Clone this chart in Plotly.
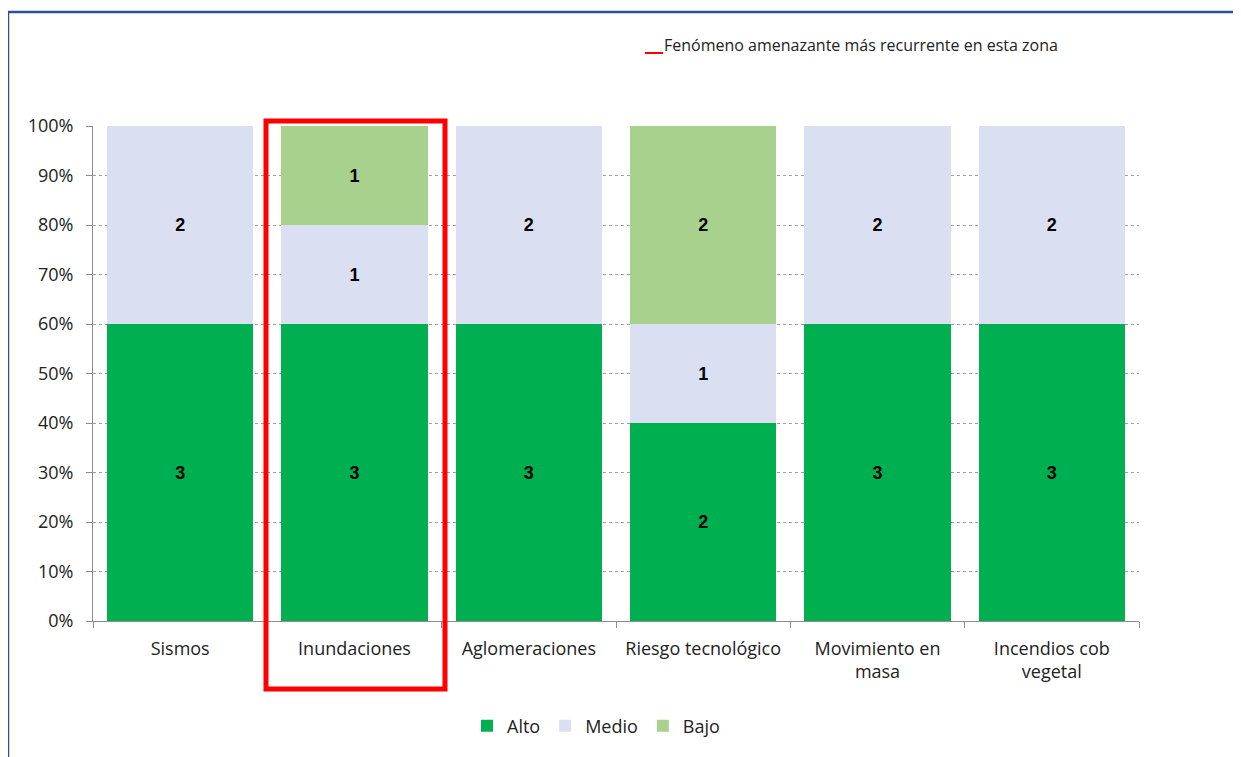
import plotly.graph_objects as go

categories = ["Sismos", "Inundaciones", "Aglomeraciones", "Riesgo tecnológico",
              "Movimiento en<br>masa", "Incendios cob<br>vegetal"]
alto = [3, 3, 3, 2, 3, 3]
medio = [2, 1, 2, 1, 2, 2]
bajo = [0, 1, 0, 2, 0, 0]
series = [("Alto", alto, "#00B050"), ("Medio", medio, "#DAE0F2"), ("Bajo", bajo, "#A9D18E")]

OFF = 8  # page body margin
W, H = 1241 - OFF, 757 - OFF
L, R, T, B = 93 - OFF, 102, 126 - OFF, 136
pw, ph = W - L - R, H - T - B

fig = go.Figure()
for name, vals, col in series:
    fig.add_trace(go.Bar(
        x=categories, y=[v if v else None for v in vals], name=name,
        marker=dict(color=col, line=dict(width=0)),
        text=[str(v) if v else "" for v in vals], textposition="inside",
        insidetextanchor="middle",
        insidetextfont=dict(family="Liberation Sans, Arial", size=18, color="black", weight="bold"),
    ))

def px2x(px):
    return (px - OFF - L) / pw
def py2y(py):
    return (H - B - (py - OFF)) / ph

font = "Open Sans, Liberation Sans, Arial"
fig.update_layout(
    width=W, height=H, barmode="stack", barnorm="fraction", bargap=0.16,
    margin=dict(l=L, r=R, t=T, b=B, autoexpand=False),
    paper_bgcolor="white", plot_bgcolor="white",
    font=dict(family=font, size=18, color="#222"),
    showlegend=True,
    legend=dict(orientation="h", x=px2x(596), xanchor="center", y=py2y(726), yanchor="middle",
                font=dict(size=18), itemwidth=30, traceorder="normal"),
    xaxis=dict(showline=True, linecolor="#8c8c8c", linewidth=1, ticks="outside",
               tickson="boundaries", tickcolor="#8c8c8c", ticklen=6, tickfont=dict(size=18),
               ticklabelstandoff=11),
    yaxis=dict(range=[0, 1], tickvals=[i / 10 for i in range(11)],
               ticktext=[f"{i*10}%" for i in range(11)],
               showline=True, linecolor="#8c8c8c", ticks="outside", tickcolor="#8c8c8c",
               ticklen=6, showgrid=True, gridcolor="#a0a0a0", griddash="dot", gridwidth=1,
               tickfont=dict(size=18), zeroline=False, ticklabelstandoff=9),
)

# blue frame (top and left)
fig.add_shape(type="line", xref="paper", yref="paper", x0=px2x(8), x1=px2x(1250),
              y0=py2y(12), y1=py2y(12), line=dict(color="#2F528F", width=2.5))
fig.add_shape(type="line", xref="paper", yref="paper", x0=px2x(8), x1=px2x(8),
              y0=py2y(12), y1=py2y(770), line=dict(color="#2F528F", width=2.5))

# red highlight box around Inundaciones
fig.add_shape(type="rect", xref="paper", yref="paper", x0=px2x(266), x1=px2x(445),
              y0=py2y(689), y1=py2y(121), line=dict(color="#FF0000", width=5))

# top note
fig.add_shape(type="line", xref="paper", yref="paper", x0=px2x(645), x1=px2x(663),
              y0=py2y(53), y1=py2y(53), line=dict(color="#FF0000", width=2))
fig.add_annotation(xref="paper", yref="paper", x=px2x(662), y=py2y(45), xanchor="left",
                   yanchor="middle", showarrow=False,
                   text="Fenómeno amenazante más recurrente en esta zona",
                   font=dict(size=16, color="#222"))

fig.write_html("out.html")
